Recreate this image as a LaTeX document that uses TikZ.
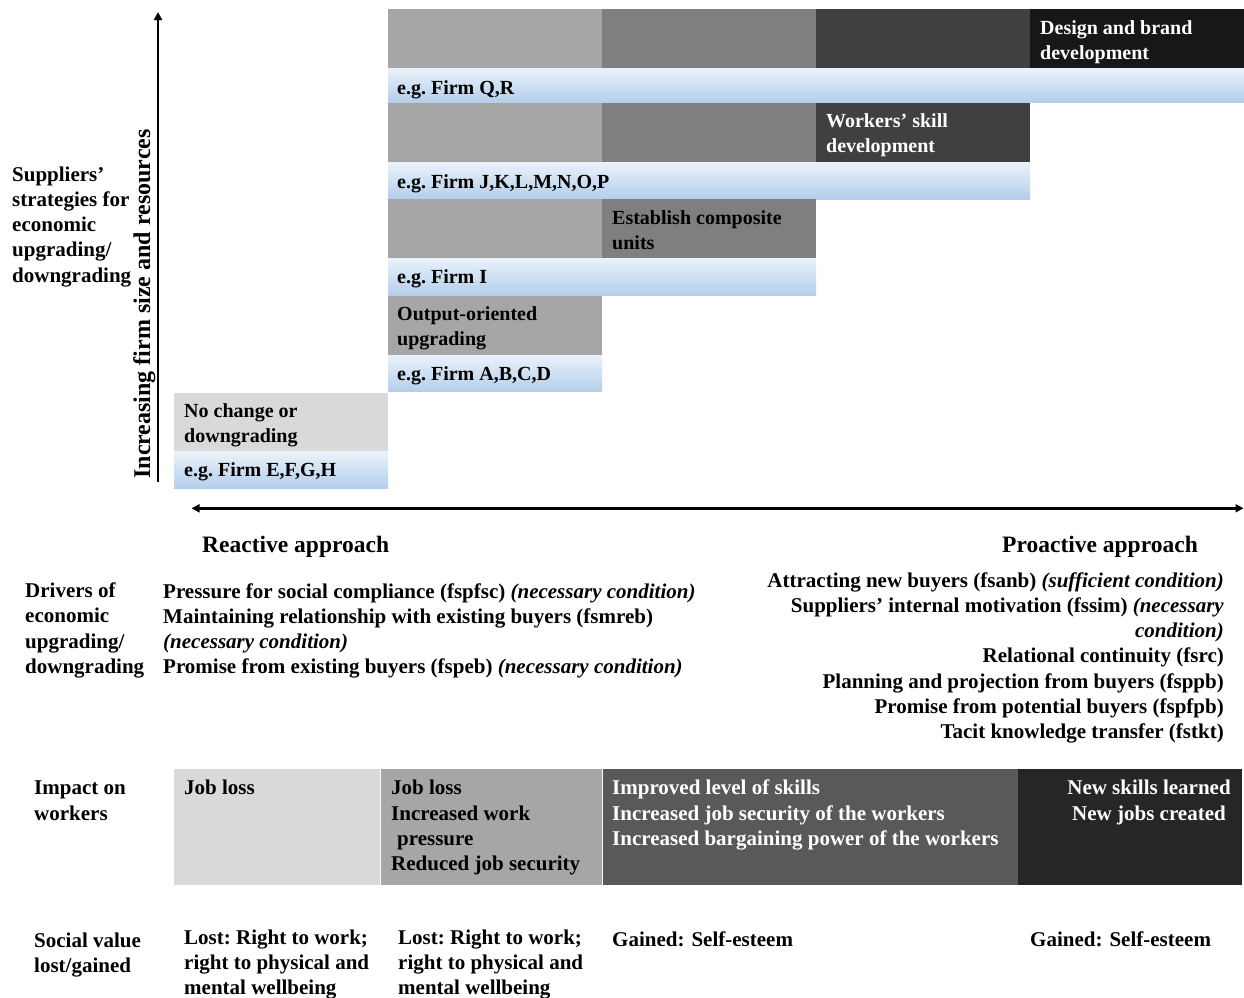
\documentclass[tikz,border=0pt]{standalone}
\usepackage{fontspec}
\setmainfont{Liberation Serif}
\usetikzlibrary{arrows.meta}
\definecolor{g0}{HTML}{D9D9D9}
\definecolor{gA}{HTML}{A6A6A6}
\definecolor{gB}{HTML}{7F7F7F}
\definecolor{gC}{HTML}{404040}
\definecolor{gD}{HTML}{171717}
\definecolor{iC}{HTML}{595959}
\definecolor{iD}{HTML}{262626}
\definecolor{blueT}{HTML}{EAF2FB}
\definecolor{blueB}{HTML}{B3CEEA}
\frenchspacing
\begin{document}
\begin{tikzpicture}[x=1pt,y=-1pt,
  tbig/.style={font=\bfseries\fontsize{21}{25.2}\selectfont, inner sep=0pt, align=left},
  tsmall/.style={font=\bfseries\fontsize{20}{25}\selectfont, inner sep=0pt, align=left},
  thead/.style={font=\bfseries\fontsize{23.5}{28}\selectfont, inner sep=0pt},
  firmbar/.style={top color=blueT, bottom color=blueB},
  axisline/.style={line width=2.5pt}]
\useasboundingbox (0,0) rectangle (1244,997);
\fill[white] (0,0) rectangle (1244,997);

% ---- Row 1 (Q,R)
\fill[gA] (388,9.3) rectangle (602,68.3);
\fill[gB] (602,9.3) rectangle (816,68.3);
\fill[gC] (816,9.3) rectangle (1030,68.3);
\fill[gD] (1030,9.3) rectangle (1244,68.3);
\shade[firmbar] (388,68.3) rectangle (1244,102.7);
% ---- Row 2 (J..P)
\fill[gA] (388,102.7) rectangle (602,162.3);
\fill[gB] (602,102.7) rectangle (816,162.3);
\fill[gC] (816,102.7) rectangle (1030,162.3);
\shade[firmbar] (388,162.3) rectangle (1030,199.3);
% ---- Row 3 (I)
\fill[gA] (388,199.3) rectangle (602,258);
\fill[gB] (602,199.3) rectangle (816,258);
\shade[firmbar] (388,258) rectangle (816,295.7);
% ---- Row 4 (A..D)
\fill[gA] (388,295.7) rectangle (602,355);
\shade[firmbar] (388,355) rectangle (602,391.7);
% ---- Row 5 (E..H)
\fill[g0] (174,392.7) rectangle (388,451.7);
\shade[firmbar] (174,451.7) rectangle (388,488.3);

\node[tsmall, white, anchor=north west] (design) at (1040,16.3) {\strut Design and brand\\development};
\node[tsmall, anchor=base west] (firmQR) at (397,94.3) {e.g. Firm Q,R};
\node[tsmall, white, anchor=north west] (workers) at (826,109.7) {\strut Workers’ skill\\development};
\node[tsmall, anchor=base west] (firmJP) at (397,188) {e.g. Firm J,K,L,M,N,O,P};
\node[tsmall, anchor=north west] (establish) at (612,206.3) {\strut Establish composite\\units};
\node[tsmall, anchor=base west] (firmI) at (397,283.5) {e.g. Firm I};
\node[tsmall, anchor=north west] (output) at (397,302.7) {\strut Output-oriented\\upgrading};
\node[tsmall, anchor=base west] (firmAD) at (397,380) {e.g. Firm A,B,C,D};
\node[tsmall, anchor=north west] (nochange) at (184,399.7) {\strut No change or\\downgrading};
\node[tsmall, anchor=base west] (firmEH) at (184,476) {e.g. Firm E,F,G,H};

% ---- left label and axes
\node[tbig, anchor=north west] (strat) at (12,163.4) {\strut Suppliers’\\strategies for\\economic\\upgrading/\\downgrading};
\node[thead, rotate=90, anchor=base] (yaxis) at (150,304) {\fontsize{24}{28}\selectfont Increasing firm size and resources};
\coordinate (ybot) at (158,482);
\coordinate (ytop) at (158,12);
\draw[axisline, -{Triangle[length=8pt,width=8pt]}] (ybot) -- (ytop);
\coordinate (xl) at (191.5,508.3);
\coordinate (xr) at (1243.5,508.3);
\draw[axisline, {Triangle[length=8pt,width=8pt]}-{Triangle[length=8pt,width=8pt]}] (xl) -- (xr);

\node[thead, anchor=base west] (reactive) at (202,552.5) {Reactive approach};
\node[thead, anchor=base east] (proactive) at (1198,552) {Proactive approach};

% ---- drivers
\node[tbig, anchor=north west] (drivers) at (25,579.9) {\strut Drivers of\\economic\\upgrading/\\downgrading};
\node[tbig, anchor=north west] (reactdrv) at (163,580.4) {\strut Pressure for social compliance (fspfsc) \textit{(necessary condition)}\\Maintaining relationship with existing buyers (fsmreb)\\\textit{(necessary condition)}\\Promise from existing buyers (fspeb) \textit{(necessary condition)}};
\node[tbig, anchor=north east, align=right] (proactdrv) at (1224,569.4) {\strut Attracting new buyers (fsanb) \textit{(sufficient condition)}\\Suppliers’ internal motivation (fssim) \textit{(necessary}\\\textit{condition)}\\Relational continuity (fsrc)\\Planning and projection from buyers (fsppb)\\Promise from potential buyers (fspfpb)\\Tacit knowledge transfer (fstkt)};

% ---- impact on workers
\node[tbig, anchor=north west] (impact) at (34,777) {\strut Impact on\\workers};
\fill[g0] (174,769) rectangle (380,885);
\fill[gA] (381,769) rectangle (602,885);
\fill[iC] (603,769) rectangle (1018,885);
\fill[iD] (1018,769) rectangle (1242,885);
\node[tbig, anchor=base west] (imp1) at (184,794.5) {Job loss};
\node[tbig, anchor=north west] (imp2) at (391,777) {\strut Job loss\\Increased work\\\hspace*{6pt}pressure\\Reduced job security};
\node[tbig, white, anchor=north west] (imp3) at (612,777) {\strut Improved level of skills\\Increased job security of the workers\\Increased bargaining power of the workers};
\node[tbig, white, anchor=north, align=center] (imp4) at (1149,777) {\strut New skills learned\\New jobs created};

% ---- social value
\node[tbig, anchor=north west] (social) at (34,929.4) {\strut Social value\\lost/gained};
\node[tbig, anchor=north west] (sv1) at (184,926.4) {\strut Lost: Right to work;\\right to physical and\\mental wellbeing};
\node[tbig, anchor=north west] (sv2) at (398,926.4) {\strut Lost: Right to work;\\right to physical and\\mental wellbeing};
\node[tbig, anchor=base west] (sv3) at (612,946.5) {Gained:\hspace{7pt}Self-esteem};
\node[tbig, anchor=base west] (sv4) at (1030,946.5) {Gained:\hspace{7pt}Self-esteem};
\end{tikzpicture}
\end{document}
